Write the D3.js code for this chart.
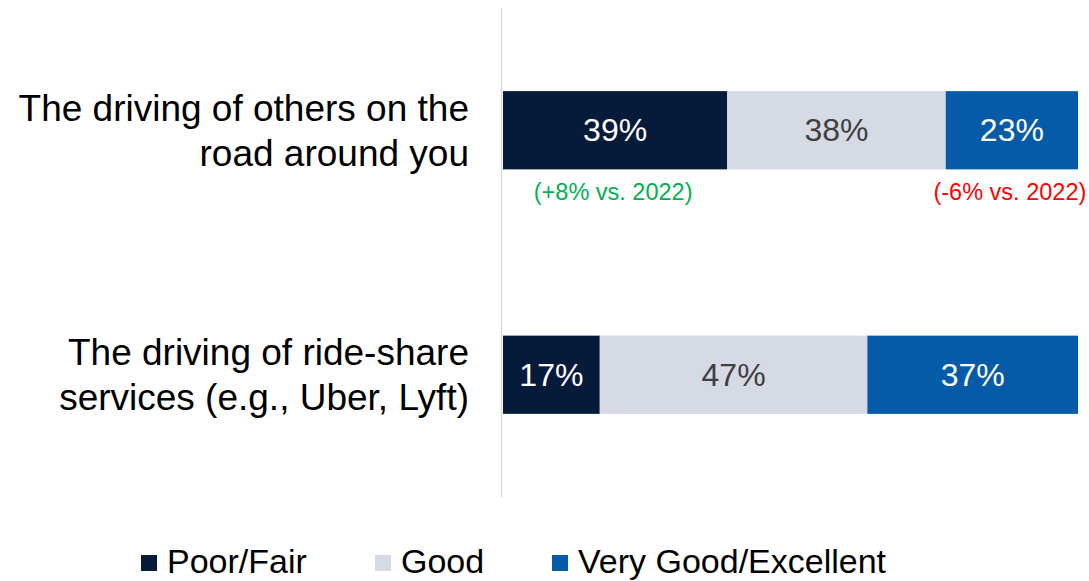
<!DOCTYPE html>
<html>
<head>
<meta charset="utf-8">
<script src="https://cdn.jsdelivr.net/npm/d3@7"></script>
<style>
  body { margin: 0; background: #fff; }
  svg { font-family: "Liberation Sans", Arial, sans-serif; }
</style>
</head>
<body>
<svg id="canvas"></svg>
<script>
let categories = [
    ["The driving of others on the", "road around you"],
    ["The driving of ride-share", "services (e.g., Uber, Lyft)"]
];
let seriesNames = ["Poor/Fair", "Good", "Very Good/Excellent"];
let poorFair = [39, 17];
let good = [38, 47];
let veryGood = [23, 37];
let notes = [
    { row: 0, series: 0, text: "(+8% vs. 2022)", color: "#00b050" },
    { row: 0, series: 2, text: "(-6% vs. 2022)", color: "#ff0000" }
];

let colors = ["#061a3a", "#d5dae5", "#065ba8"];
let labelColors = ["#ffffff", "#404040", "#ffffff"];

let width = 1089;
let height = 581;

let canvas = d3.select("#canvas");
canvas.attr("width", width)
canvas.attr("height", height)

let rows = categories.map((c, i) => {
    let vals = [poorFair[i], good[i], veryGood[i]];
    let total = d3.sum(vals);
    let acc = 0;
    return vals.map((v, j) => {
        let start = acc / total;
        acc += v;
        return { row: i, series: j, value: v, start: start, end: acc / total };
    });
});

let xScale = d3.scaleLinear()
               .domain([0, 1])
               .range([503, 1078])

let yScale = d3.scaleBand()
               .domain(d3.range(categories.length))
               .range([8, 497])
               .paddingInner(0.68)
               .paddingOuter(0.34)

// axis line
canvas.append("line")
      .attr("x1", 501.5).attr("x2", 501.5)
      .attr("y1", 8).attr("y2", 497)
      .attr("stroke", "#d9d9d9")
      .attr("stroke-width", 1.5)

let segs = canvas.selectAll("g.seg")
      .data(rows.flat())
      .enter()
      .append("g")
      .attr("class", "seg")

segs.append("rect")
    .attr("x", d => xScale(d.start))
    .attr("width", d => xScale(d.end) - xScale(d.start))
    .attr("y", d => yScale(d.row))
    .attr("height", yScale.bandwidth())
    .attr("fill", d => colors[d.series])

segs.append("text")
    .attr("x", d => (xScale(d.start) + xScale(d.end)) / 2)
    .attr("y", d => yScale(d.row) + yScale.bandwidth() / 2)
    .attr("dy", "0.35em")
    .attr("text-anchor", "middle")
    .attr("font-size", 32)
    .attr("fill", d => labelColors[d.series])
    .text(d => d.value + "%")

// category labels
categories.forEach((lines, i) => {
    let cy = yScale(i) + yScale.bandwidth() / 2;
    let t = canvas.append("text")
        .attr("text-anchor", "end")
        .attr("font-size", 37)
        .attr("fill", "#000")
    lines.forEach((l, k) => {
        t.append("tspan")
         .attr("x", 469)
         .attr("y", cy + (k - 0.5) * 45)
         .attr("dy", "0.35em")
         .text(l)
    })
});

// change notes
canvas.selectAll("text.note")
      .data(notes)
      .enter()
      .append("text")
      .attr("class", "note")
      .attr("x", d => {
          let s = rows[d.row][d.series];
          return (xScale(s.start) + xScale(s.end)) / 2 - 2;
      })
      .attr("y", d => yScale(d.row) + yScale.bandwidth() + 22)
      .attr("dy", "0.35em")
      .attr("text-anchor", "middle")
      .attr("font-size", 23.5)
      .attr("fill", d => d.color)
      .text(d => d.text)

// legend
let legendX = [141, 375, 552];
let legend = canvas.selectAll("g.legend")
      .data(seriesNames)
      .enter()
      .append("g")
      .attr("class", "legend")
      .attr("transform", (d, i) => "translate(" + legendX[i] + ",562)")

legend.append("rect")
      .attr("x", 0).attr("y", -7)
      .attr("width", 16).attr("height", 16)
      .attr("fill", (d, i) => colors[i])

legend.append("text")
      .attr("x", 26)
      .attr("dy", "0.33em")
      .attr("font-size", 34)
      .attr("fill", "#000")
      .text(d => d)
</script>
</body>
</html>
